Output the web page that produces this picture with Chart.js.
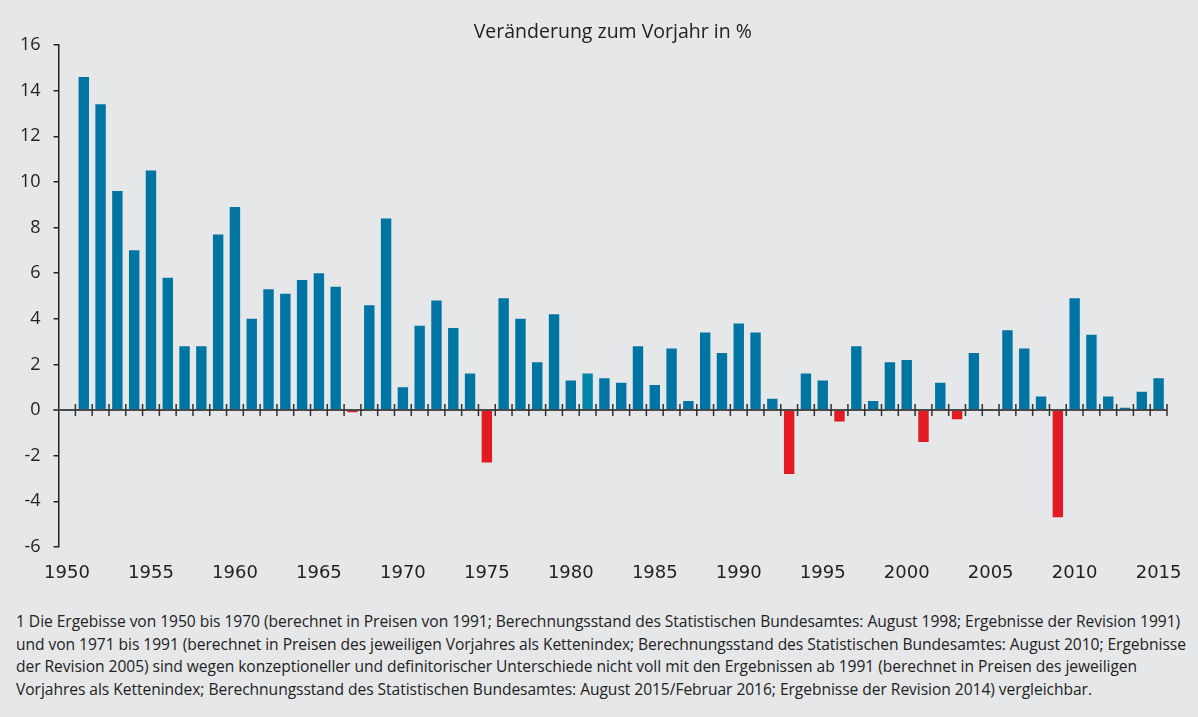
<!DOCTYPE html>
<html lang="de">
<head>
<meta charset="utf-8">
<title>Veränderung zum Vorjahr in %</title>
<script src="https://cdn.jsdelivr.net/npm/chart.js@4/dist/chart.umd.min.js"></script>
<style>
    html, body { margin: 0; padding: 0; background: #e6e7e9; }
    #wrap { position: relative; width: 1198px; height: 717px; overflow: hidden; }
    #chartBox { position: absolute; left: 0; top: 0; width: 1198px; height: 595px; }
    #note {
        position: absolute; left: 16px; top: 610px; width: 1182px;
        font-family: "Open Sans", sans-serif; font-size: 15.6px; line-height: 22.7px;
        color: #222; letter-spacing: -0.05px;
    }
    #note div { white-space: nowrap; }
</style>
</head>
<body>
<div id="wrap">
    <div id="chartBox"><canvas id="bipChart"></canvas></div>
    <div id="note">
        <div>1 Die Ergebisse von 1950 bis 1970 (berechnet in Preisen von 1991; Berechnungsstand des Statistischen Bundesamtes: August 1998; Ergebnisse der Revision 1991)</div>
        <div>und von 1971 bis 1991 (berechnet in Preisen des jeweiligen Vorjahres als Kettenindex; Berechnungsstand des Statistischen Bundesamtes: August 2010; Ergebnisse</div>
        <div>der Revision 2005) sind wegen konzeptioneller und definitorischer Unterschiede nicht voll mit den Ergebnissen ab 1991 (berechnet in Preisen des jeweiligen</div>
        <div>Vorjahres als Kettenindex; Berechnungsstand des Statistischen Bundesamtes: August 2015/Februar 2016; Ergebnisse der Revision 2014) vergleichbar.</div>
    </div>
</div>
<script>
// Jahre 1950 - 2015
var years = [];
for (var y = 1950; y <= 2015; y++) { years.push(String(y)); }

// Veränderung zum Vorjahr in % (1950 ohne Wert)
var changes = [
    null, 14.6, 13.4, 9.6, 7.0, 10.5, 5.8, 2.8, 2.8, 7.7,   // 1950-1959
    8.9, 4.0, 5.3, 5.1, 5.7, 6.0, 5.4, -0.1, 4.6, 8.4,      // 1960-1969
    1.0, 3.7, 4.8, 3.6, 1.6, -2.3, 4.9, 4.0, 2.1, 4.2,      // 1970-1979
    1.3, 1.6, 1.4, 1.2, 2.8, 1.1, 2.7, 0.4, 3.4, 2.5,       // 1980-1989
    3.8, 3.4, 0.5, -2.8, 1.6, 1.3, -0.5, 2.8, 0.4, 2.1,     // 1990-1999
    2.2, -1.4, 1.2, -0.4, 2.5, 0.0, 3.5, 2.7, 0.6, -4.7,    // 2000-2009
    4.9, 3.3, 0.6, 0.1, 0.8, 1.4                            // 2010-2015
];

// Achsenbeschriftung
var yTicks = [16, 14, 12, 10, 8, 6, 4, 2, 0, -2, -4, -6];
var xLabelStep = 5;
var chartTitle = 'Veränderung zum Vorjahr in %';

var BLUE = '#0075a3';
var RED = '#e21b23';

function barColor(ctx) {
    var v = ctx.raw;
    if (v < 0) return RED;
    if (years[ctx.dataIndex] === '1981') return '#0086a8';
    return BLUE;
}

// Nulllinie mit Teilstrichen zwischen den Jahren
var zeroLinePlugin = {
    id: 'zeroLine',
    afterDatasetsDraw: function(chart) {
        var ctx = chart.ctx;
        var xs = chart.scales.x;
        var ys = chart.scales.y;
        var y0 = ys.getPixelForValue(0);
        ctx.save();
        ctx.strokeStyle = '#4a4a4a';
        ctx.lineWidth = 2;
        ctx.beginPath();
        ctx.moveTo(xs.left - 5, y0);
        ctx.lineTo(xs.right, y0);
        ctx.stroke();

        ctx.strokeStyle = '#333';
        ctx.lineWidth = 1.5;
        ctx.beginPath();
        for (var i = 0; i < years.length; i++) {
            var px = (i < years.length - 1)
                ? (xs.getPixelForValue(i) + xs.getPixelForValue(i + 1)) / 2
                : xs.right;
            ctx.moveTo(px, y0 - 6);
            ctx.lineTo(px, y0 + 6);
        }
        ctx.stroke();
        ctx.restore();
    }
};

// Überschrift über dem Diagrammbereich
var titlePlugin = {
    id: 'topTitle',
    afterDraw: function(chart) {
        var ctx = chart.ctx;
        var area = chart.chartArea;
        ctx.save();
        ctx.font = '19.5px "Open Sans", sans-serif';
        ctx.fillStyle = '#222';
        ctx.textAlign = 'center';
        ctx.textBaseline = 'middle';
        ctx.fillText(chartTitle, (area.left + area.right) / 2, 32);
        ctx.restore();
    }
};

var bipChart = new Chart(document.getElementById('bipChart').getContext('2d'), {
    type: 'bar',
    data: {
        labels: years,
        datasets: [{
            label: chartTitle,
            data: changes,
            backgroundColor: barColor,
            borderWidth: 0,
            barPercentage: 0.62,
            categoryPercentage: 1.0
        }]
    },
    options: {
        responsive: true,
        maintainAspectRatio: false,
        animation: false,
        layout: {
            padding: { top: 45, right: 31, bottom: 0, left: 0 }
        },
        plugins: {
            legend: { display: false },
            title: { display: false },
            tooltip: { enabled: false }
        },
        scales: {
            x: {
                offset: true,
                grid: { display: false, drawTicks: false },
                border: { display: false },
                ticks: {
                    autoSkip: false,
                    maxRotation: 0,
                    padding: 16,
                    color: '#222',
                    font: { family: '"DejaVu Sans", sans-serif', size: 18 },
                    callback: function(value, index) {
                        var yr = parseInt(years[index], 10);
                        return (yr % xLabelStep === 0) ? years[index] : '';
                    }
                },
                afterFit: function(scale) { scale.height = 48; }
            },
            y: {
                min: yTicks[yTicks.length - 1],
                max: yTicks[0],
                afterBuildTicks: function(scale) {
                    scale.ticks = yTicks.map(function(v) { return { value: v }; });
                },
                grid: {
                    drawOnChartArea: false,
                    drawTicks: true,
                    tickLength: 5,
                    color: '#222',
                    lineWidth: 1.5
                },
                border: { display: true, color: '#222', width: 1.5 },
                ticks: {
                    padding: 13,
                    color: '#222',
                    font: { family: '"Open Sans", sans-serif', size: 18 }
                },
                afterFit: function(scale) { scale.width = 58.6; }
            }
        }
    },
    plugins: [zeroLinePlugin, titlePlugin]
});
</script>
</body>
</html>
